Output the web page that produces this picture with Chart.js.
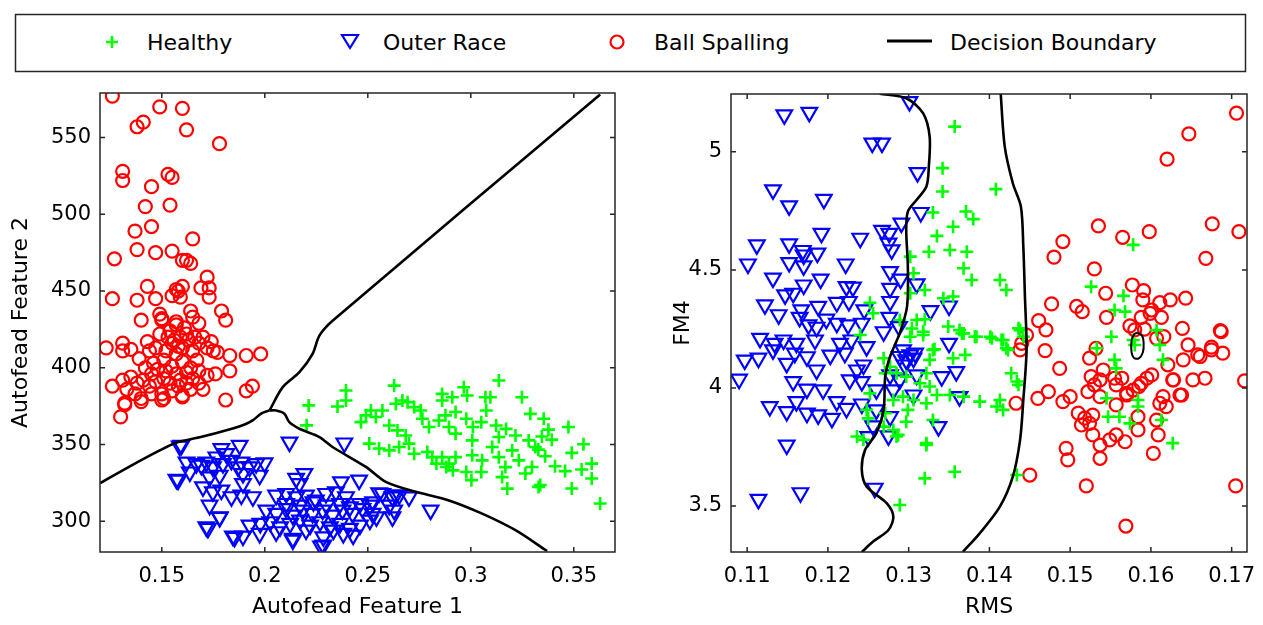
<!DOCTYPE html>
<html>
<head>
<meta charset="utf-8">
<title>Autofead vs RMS/FM4</title>
<script src="https://cdn.jsdelivr.net/npm/chart.js@4.4.0/dist/chart.umd.min.js"></script>
<style>
  body { margin: 0; width: 1263px; height: 625px; background: #fff; position: relative; overflow: hidden; }
  #legend { position: absolute; left: 0; top: 0; }
  #wrapA { position: absolute; left: 0; top: 80px; width: 640px; height: 545px; }
  #wrapB { position: absolute; left: 640px; top: 80px; width: 623px; height: 545px; }
</style>
</head>
<body>
<svg id="legend" width="1263" height="80" xmlns="http://www.w3.org/2000/svg"></svg>
<div id="wrapA"><canvas id="chartA" width="640" height="545"></canvas></div>
<div id="wrapB"><canvas id="chartB" width="623" height="545"></canvas></div>
<script>
var seriesNames = ['Healthy', 'Outer Race', 'Ball Spalling', 'Decision Boundary'];

// left panel: autofead features
var xTicksA = [0.15, 0.2, 0.25, 0.3, 0.35];
var yTicksA = [300, 350, 400, 450, 500, 550];

var healthyA = [
  [0.2213,375.5],[0.2203,362.5],[0.2353,374.8],[0.2394,385.2],[0.2394,378.7],[0.2628,388.4],
  [0.2467,364.6],[0.2491,369.0],[0.2515,372.2],[0.2539,367.9],[0.2571,372.2],[0.2604,362.4],[0.2644,359.2],
  [0.2684,355.9],[0.2725,344.0],[0.2636,376.6],[0.2668,378.7],[0.2693,377.6],[0.2725,374.4],[0.2757,372.2],
  [0.2507,350.6],[0.2555,347.4],[0.2604,346.2],[0.2652,348.4],[0.2700,350.6],
  [0.2789,345.1],[0.2833,337.6],[0.2881,335.4],[0.2913,333.2],[0.2978,332.1],[0.3003,326.8],[0.3051,332.1],
  [0.2765,366.8],[0.2797,361.4],[0.2845,365.7],[0.2877,369.0],[0.2926,371.2],[0.2978,366.8],[0.3010,361.4],
  [0.3051,364.6],[0.3075,372.2],[0.3123,362.4],[0.3171,360.2],[0.3217,355.9],
  [0.2861,383.0],[0.2861,378.7],[0.2910,380.8],[0.2966,387.3],[0.2982,381.9],[0.3071,380.8],[0.3095,380.8],
  [0.3136,391.7],[0.3248,380.8],[0.3289,370.0],[0.3354,366.8],[0.3474,361.4],[0.3547,350.2],[0.3587,337.6],
  [0.3587,327.9],[0.3628,311.6],[0.3490,321.4],[0.3337,323.6],[0.3345,355.2],[0.3377,359.7],[0.3393,353.2],
  [0.3328,346.7],[0.3361,342.4],[0.3409,335.9],[0.3458,332.7],[0.3538,333.7],[0.3490,344.6],
  [0.3136,341.8],[0.3168,335.3],[0.3152,328.8],[0.3177,321.3],[0.3201,346.2],[0.3233,339.7],[0.3265,331.1],
  [0.3297,335.4],[0.3329,322.4],[0.3281,352.7],[0.3313,348.4],[0.3104,348.4],[0.3055,339.7],[0.3007,343.0],
  [0.2926,341.8],[0.2894,337.6],[0.2861,341.8],[0.2813,341.8],[0.3007,352.7],[0.2926,357.1],[0.2894,361.4],
  [0.3136,354.9]
];

var outerA = [
  [0.1595,349.5],[0.2120,351.6],[0.2386,351.0],[0.1789,347.3],[0.1878,349.5],[0.1813,344.1],[0.1765,341.9],
  [0.1620,338.6],[0.1668,337.6],[0.1716,338.6],[0.1636,332.1],[0.1692,336.5],[0.1748,335.4],[0.1797,337.6],
  [0.1838,339.7],[0.1886,338.6],[0.1926,335.4],[0.1958,337.6],[0.1999,338.0],
  [0.1579,326.8],[0.1700,322.4],[0.1732,328.9],[0.1781,330.0],[0.1748,319.2],[0.1789,320.3],[0.1838,316.0],
  [0.1886,317.1],[0.1894,324.6],[0.1942,316.0],[0.1975,330.0],[0.1894,331.1],[0.1870,335.4],
  [0.1732,310.5],[0.1781,302.9],[0.1716,296.4],[0.1845,290.4],[0.1894,290.4],[0.1926,297.5],[0.1975,292.1],
  [0.2055,317.0],[0.2104,318.1],[0.2152,316.0],[0.2200,317.1],[0.2248,313.8],[0.2297,318.1],[0.2345,319.2],
  [0.2394,316.0],[0.2458,326.8],[0.2370,325.7],[0.2152,327.9],[0.2192,331.1],[0.2168,324.6],
  [0.2007,307.3],[0.2056,305.1],[0.2104,308.3],[0.2136,304.0],[0.2184,307.3],[0.2232,305.1],[0.2281,307.3],
  [0.2329,304.0],[0.2377,307.3],[0.2426,305.1],[0.2474,308.3],[0.2523,305.1],[0.2571,318.1],[0.2619,315.9],
  [0.2652,317.1],[0.2700,315.9],[0.2604,310.5],[0.2628,307.3],[0.2620,302.9],[0.2805,307.3],
  [0.1978,298.6],[0.2026,299.7],[0.2074,296.4],[0.2123,298.6],[0.2171,300.8],[0.2220,297.5],[0.2268,299.7],
  [0.2316,296.4],[0.2365,298.6],[0.2413,295.4],[0.2462,297.5],[0.2510,300.8],[0.2542,302.9],
  [0.2055,293.2],[0.2136,288.9],[0.2200,294.3],[0.2284,289.9],[0.2284,284.5],[0.2381,292.1],[0.2429,291.0],
  [0.2333,294.3],
  [0.2104,311.6],[0.2171,310.5],[0.2236,312.7],[0.2300,310.5],[0.2365,311.6],[0.2413,309.4],[0.2462,311.6],
  [0.2510,310.5],[0.2526,312.7],
  [0.2555,318.6],[0.2636,317.1],[0.2273,283.9],[0.1587,349.0],[0.1571,327.4],[0.1724,295.4],[0.1781,302.5],
  [0.1853,289.5],[0.2136,287.8]
];

var ballA = [
  [0.126,577],[0.149,570],[0.160,569],[0.138,557],[0.141,560],[0.162,555],[0.178,546],[0.131,528],[0.131,522],
  [0.153,526],[0.155,524],[0.145,518],[0.154,506],[0.142,505],[0.137,489],[0.145,492],[0.165,484],[0.127,471],
  [0.138,477],[0.147,475],[0.155,476],[0.160,470],[0.162,470],[0.164,468],[0.172,459],[0.169,452],[0.173,452],
  [0.173,446],[0.126,445],[0.143,453],[0.138,444],[0.147,445],[0.155,447],[0.158,450],[0.159,446],[0.160,453],
  [0.157,451],[0.179,437],[0.181,431],[0.140,431],[0.149,435],[0.150,432],[0.157,430],[0.164,437],[0.165,433],
  [0.168,429],
  [0.123,413],[0.131,416],[0.131,411],[0.135,412],[0.143,417],[0.150,431],[0.149,422],[0.154,424],[0.157,428],
  [0.159,420],[0.162,422],[0.144,411],[0.147,413],[0.152,411],[0.155,416],[0.157,409],[0.160,413],[0.165,411],
  [0.168,416],[0.172,413],[0.175,411],[0.174,417],[0.177,410],[0.183,408],[0.191,408],[0.198,409],[0.183,398],
  [0.139,406],[0.146,403],[0.151,405],[0.155,401],[0.160,404],[0.164,400],[0.167,405],[0.168,398],
  [0.126,388],[0.131,392],[0.135,394],[0.138,390],[0.141,392],[0.144,388],[0.147,391],[0.151,393],[0.154,390],
  [0.159,392],[0.162,390],[0.165,393],[0.168,390],[0.172,395],[0.176,396],
  [0.132,377],[0.137,383],[0.140,380],[0.150,383],[0.150,379],[0.160,382],[0.164,386],[0.170,386],[0.181,379],
  [0.191,385],[0.194,388],[0.130,368],[0.132,376],[0.140,378],[0.151,380],[0.160,381],
  [0.153,420],[0.156,418],[0.158,414],[0.161,426],[0.163,418],[0.166,420],[0.170,420],[0.152,398],[0.157,396],
  [0.162,397],[0.145,396],[0.142,400],[0.148,399],[0.155,385],[0.158,388],[0.145,383],[0.133,386]
];

// decision boundaries, left panel
var boundA1 = [[0.1200,324.8],[0.1345,335.8],[0.1490,346.2],[0.1573,351.4],[0.1684,354.7],[0.1844,360.5],
  [0.1902,363.1],[0.1941,365.7],[0.1984,370.3],[0.2023,372.2]];
var boundA2 = [[0.2023,372.2],[0.2055,372.2],[0.2095,370.1],[0.2119,364.6],[0.2168,360.3],[0.2265,354.9],
  [0.2329,348.4],[0.2491,335.4],[0.2587,325.7],[0.2733,319.2],[0.2894,313.6],[0.3055,305.0],[0.3217,294.2],
  [0.3370,280.6]];
var boundA3 = [[0.2023,372.2],[0.2087,387.4],[0.2168,397.1],[0.2232,409.0],[0.2265,420.9],[0.2329,430.6],
  [0.3628,578.0]];

// right panel: RMS vs FM4
var xTicksB = [0.11, 0.12, 0.13, 0.14, 0.15, 0.16, 0.17];
var yTicksB = [3.5, 4, 4.5, 5];

var healthyB = [
  [0.1357,5.107],[0.1342,4.931],[0.1342,4.832],[0.1330,4.743],[0.1371,4.747],[0.1380,4.715],[0.1355,4.683],
  [0.1335,4.644],[0.1325,4.577],[0.1351,4.584],[0.1372,4.577],[0.1302,4.556],[0.1368,4.507],[0.1378,4.457],
  [0.1306,4.486],[0.1302,4.401],[0.1320,4.415],[0.1343,4.380],[0.1355,4.387],[0.1252,4.361],[0.1256,4.316],
  [0.1289,4.288],[0.1304,4.252],[0.1310,4.288],[0.1320,4.291],[0.1302,4.217],[0.1318,4.224],[0.1349,4.260],
  [0.1366,4.231],[0.1382,4.217],[0.1332,4.164],[0.1240,4.224],[0.1413,4.457],[0.1421,4.415],[0.1318,4.238],
  [0.1363,4.245],[0.1401,4.217],[0.1415,4.203],[0.1423,4.161],[0.1438,4.245],[0.1442,4.217],
  [0.1269,4.126],[0.1277,4.090],[0.1330,4.161],[0.1326,4.119],[0.1355,4.126],[0.1370,4.140],[0.1271,4.062],
  [0.1285,4.062],[0.1297,4.048],[0.1322,4.062],[0.1326,4.006],[0.1335,3.970],[0.1314,4.020],[0.1293,3.963],
  [0.1306,3.949],[0.1322,3.935],[0.1351,3.970],[0.1368,3.963],[0.1388,3.942],[0.1409,3.921],[0.1413,3.949],
  [0.1417,3.907],[0.1427,4.062],[0.1434,4.027],[0.1436,4.013],
  [0.1252,3.977],[0.1248,3.907],[0.1271,3.893],[0.1281,3.949],[0.1299,3.907],[0.1297,3.857],[0.1330,3.864],
  [0.1281,3.822],[0.1285,3.794],[0.1244,3.780],[0.1322,3.766],[0.1236,3.794],[0.1250,3.871],[0.1269,3.836],
  [0.1287,3.801],[0.1322,3.758],[0.1320,3.617],[0.1357,3.645],[0.1289,3.504],
  [0.1408,4.842],[0.1526,4.429],[0.1566,4.390],[0.1578,4.606],[0.1555,4.330],[0.1568,4.323],
  [0.1436,4.253],[0.1368,4.231],[0.1384,4.217],[0.1403,4.210],[0.1417,4.203],[0.1421,4.168],[0.1551,4.217],
  [0.1533,4.168],[0.1578,4.203],[0.1607,4.245],[0.1611,4.182],[0.1580,4.182],[0.1555,4.119],[0.1557,4.083],
  [0.1615,4.119],[0.1545,3.956],[0.1584,3.949],[0.1584,3.921],[0.1547,3.878],[0.1561,3.878],[0.1574,3.850],
  [0.1613,3.864],[0.1627,3.766],[0.1434,3.631]
];

var outerB = [
  [0.1301,5.213],[0.1146,5.157],[0.1177,5.167],[0.1255,5.037],[0.1267,5.037],[0.1311,4.912],[0.1132,4.839],
  [0.1152,4.771],[0.1195,4.799],[0.1315,4.743],[0.1291,4.698],[0.1267,4.667],[0.1276,4.655],[0.1192,4.655],
  [0.1240,4.634],[0.1112,4.606],[0.1152,4.610],[0.1169,4.582],[0.1187,4.571],[0.1170,4.563],[0.1275,4.613],
  [0.1279,4.585],[0.1101,4.525],[0.1152,4.531],[0.1170,4.517],[0.1222,4.525],[0.1277,4.493],
  [0.1132,4.465],[0.1191,4.461],[0.1223,4.429],[0.1231,4.427],[0.1277,4.422],[0.1290,4.461],[0.1310,4.441],
  [0.1147,4.394],[0.1157,4.401],[0.1170,4.436],
  [0.1122,4.352],[0.1139,4.310],[0.1167,4.331],[0.1188,4.345],[0.1211,4.362],[0.1226,4.366],[0.1245,4.331],
  [0.1277,4.366],[0.1327,4.327],[0.1350,4.347],
  [0.1165,4.299],[0.1176,4.267],[0.1186,4.257],[0.1198,4.291],[0.1211,4.274],[0.1225,4.267],[0.1242,4.274],
  [0.1276,4.299],[0.1288,4.260],
  [0.1116,4.210],[0.1134,4.189],[0.1145,4.203],[0.1161,4.189],[0.1184,4.203],[0.1215,4.189],[0.1229,4.203],
  [0.1248,4.175],[0.1269,4.238],[0.1350,4.189],
  [0.1090,4.037],[0.1097,4.118],[0.1114,4.126],[0.1132,4.161],[0.1149,4.104],[0.1159,4.147],[0.1174,4.132],
  [0.1186,4.076],[0.1203,4.139],[0.1221,4.147],[0.1236,4.076],[0.1244,4.097],
  [0.1157,4.027],[0.1174,3.995],[0.1194,3.992],[0.1227,4.034],[0.1242,4.027],[0.1260,3.992],[0.1277,4.055],
  [0.1289,4.034],[0.1306,3.970],[0.1281,3.992],
  [0.1128,3.921],[0.1149,3.900],[0.1161,3.942],[0.1174,3.893],[0.1188,3.886],[0.1205,3.871],[0.1211,3.942],
  [0.1223,3.913],[0.1242,3.932],[0.1260,3.907],[0.1277,3.878],[0.1337,3.836],[0.1363,3.963],[0.1341,4.048],
  [0.1359,4.069],[0.1310,4.055],
  [0.1256,3.839],[0.1250,3.794],[0.1275,3.797],[0.1149,3.758],[0.1114,3.528],[0.1166,3.556],[0.1258,3.575],
  [0.1293,4.161],[0.1302,4.140],[0.1297,4.119],[0.1306,4.126],[0.1289,4.133],[0.1295,4.097],[0.1308,4.147]
];

var ballB = [
  [0.1706,5.164],[0.1647,5.076],[0.1620,4.969],[0.1535,4.686],[0.1491,4.620],[0.1480,4.554],[0.1530,4.504],
  [0.1565,4.638],[0.1598,4.662],[0.1676,4.695],[0.1709,4.662],[0.1668,4.549],
  [0.1577,4.436],[0.1591,4.412],[0.1590,4.373],[0.1544,4.401],[0.1611,4.361],[0.1624,4.373],[0.1643,4.380],
  [0.1601,4.330],[0.1588,4.299],[0.1613,4.299],[0.1599,4.316],
  [0.1477,4.356],[0.1508,4.345],[0.1515,4.323],[0.1545,4.299],
  [0.1461,4.285],[0.1470,4.246],[0.1446,4.224],[0.1440,4.189],[0.1469,4.158],
  [0.1574,4.263],[0.1580,4.246],[0.1592,4.249],[0.1616,4.217],[0.1639,4.252],[0.1646,4.182],[0.1686,4.243],
  [0.1675,4.173],[0.1689,4.147],[0.1658,4.140],[0.1487,4.083],[0.1607,4.210],
  [0.1661,4.133],[0.1675,4.161],[0.1640,4.119],[0.1621,4.098],[0.1627,4.034],[0.1638,3.970],
  [0.1524,4.126],[0.1532,4.168],[0.1541,4.076],[0.1526,4.048],[0.1530,4.013],[0.1537,4.034],[0.1555,4.041],
  [0.1564,4.041],[0.1557,4.013],[0.1570,3.970],[0.1578,3.991],[0.1588,4.019],[0.1595,4.041],[0.1601,4.055],
  [0.1585,4.006],[0.1522,3.984],[0.1537,3.963],[0.1557,3.928],[0.1570,3.977],
  [0.1491,3.942],[0.1500,3.963],[0.1460,3.956],[0.1473,3.984],
  [0.1611,3.935],[0.1619,3.921],[0.1615,3.963],[0.1636,3.970],[0.1607,3.864],[0.1609,3.801],
  [0.1510,3.893],[0.1518,3.872],[0.1528,3.885],[0.1514,3.843],[0.1524,3.850],[0.1528,3.801],[0.1537,3.758],
  [0.1549,3.780],[0.1557,3.801],[0.1568,3.772],[0.1584,3.878],[0.1584,3.822],[0.1495,3.744],[0.1497,3.695],
  [0.1537,3.702],[0.1603,3.723],
  [0.1450,3.631],[0.1520,3.585],[0.1569,3.415],[0.1705,3.585],[0.1716,4.030],
  [0.1687,4.238],[0.1667,4.041],[0.1652,4.034],[0.1628,4.034],[0.1433,3.935],[0.1438,4.161]
];

// decision boundaries, right panel
var boundB1 = [[0.1264,5.246],[0.1297,5.227],[0.1318,5.163],[0.1326,5.065],[0.1325,4.938],[0.1322,4.853],
  [0.1310,4.797],[0.1299,4.747],[0.1297,4.669],[0.1299,4.514],[0.1298,4.344],[0.1289,4.232],[0.1277,4.133],
  [0.1271,4.048],[0.1269,3.907],[0.1260,3.808],[0.1246,3.737],[0.1242,3.652],[0.1248,3.582],[0.1273,3.511],
  [0.1281,3.455],[0.1275,3.398],[0.1256,3.349],[0.1242,3.305]];
var boundB2 = [[0.1414,5.246],[0.1419,5.022],[0.1429,4.867],[0.1439,4.768],[0.1442,4.599],[0.1444,4.387],
  [0.1446,4.161],[0.1442,3.949],[0.1438,3.780],[0.1429,3.624],[0.1413,3.497],[0.1388,3.384],[0.1367,3.305]];
var boundB3 = [[0.1583,4.234],[0.1589,4.222],[0.1591,4.190],[0.1590,4.150],[0.1585,4.125],[0.1579,4.127],
  [0.1576,4.152],[0.1576,4.200],[0.1579,4.226],[0.1583,4.234]];

var GREEN = '#00ff00', BLUE = '#0000ff', RED = '#ff0000', FRAME = '#262626';
Chart.defaults.font.family = '"DejaVu Sans", sans-serif';
Chart.defaults.color = '#000';

function toXY(arr) {
  return arr.map(function(p) { return { x: p[0], y: p[1] }; });
}

function pointSet(name, arr, style, color, radius, width, rot) {
  return {
    label: name, data: toXY(arr), showLine: false,
    pointStyle: style, pointRadius: radius, pointHoverRadius: radius, pointRotation: rot || 0,
    pointBorderColor: color, pointBackgroundColor: 'rgba(0,0,0,0)', pointBorderWidth: width,
    borderColor: color, backgroundColor: 'rgba(0,0,0,0)'
  };
}

function lineSet(arr, w) {
  return {
    label: seriesNames[3], data: toXY(arr), showLine: true, pointRadius: 0,
    borderColor: '#000', borderWidth: w || 2.6, tension: 0.3, fill: false
  };
}

// box round the plot with inward ticks on all four sides
var frameTicks = {
  id: 'frameTicks',
  afterDraw: function(chart) {
    var ctx = chart.ctx, a = chart.chartArea;
    var xs = chart.scales.x, ys = chart.scales.y;
    ctx.save();
    ctx.strokeStyle = FRAME;
    ctx.lineWidth = 1.5;
    ctx.strokeRect(a.left, a.top, a.right - a.left, a.bottom - a.top);
    ctx.beginPath();
    xs.ticks.forEach(function(t) {
      var p = xs.getPixelForValue(t.value);
      ctx.moveTo(p, a.bottom); ctx.lineTo(p, a.bottom - 5);
      ctx.moveTo(p, a.top); ctx.lineTo(p, a.top + 5);
    });
    ys.ticks.forEach(function(t) {
      var p = ys.getPixelForValue(t.value);
      ctx.moveTo(a.left, p); ctx.lineTo(a.left + 5, p);
      ctx.moveTo(a.right, p); ctx.lineTo(a.right - 5, p);
    });
    ctx.stroke();
    ctx.restore();
  }
};

function makePanel(id, sets, cfg) {
  return new Chart(document.getElementById(id), {
    type: 'scatter',
    data: { datasets: sets },
    plugins: [frameTicks],
    options: {
      responsive: false, animation: false, devicePixelRatio: 1,
      layout: { padding: { top: cfg.padTop, right: cfg.padRight, left: 0, bottom: 0 } },
      plugins: { legend: { display: false }, tooltip: { enabled: false } },
      scales: {
        x: {
          type: 'linear', min: cfg.xMin, max: cfg.xMax,
          afterBuildTicks: function(s) { s.ticks = cfg.xTicks.map(function(v) { return { value: v }; }); },
          afterFit: function(s) { s.height = 73; s.paddingLeft = 0; s.paddingRight = 0; },
          grid: { display: false, drawTicks: false }, border: { display: false },
          ticks: { autoSkip: false, maxRotation: 0, padding: 12, font: { size: 21 },
                   callback: function(v) { return String(v); } },
          title: { display: true, text: cfg.xTitle, font: { size: 22, lineHeight: 1.2 }, padding: { top: 0, bottom: 5 } }
        },
        y: {
          type: 'linear', min: cfg.yMin, max: cfg.yMax,
          afterBuildTicks: function(s) { s.ticks = cfg.yTicks.map(function(v) { return { value: v }; }); },
          afterFit: function(s) { s.width = cfg.yWidth; s.paddingTop = 0; s.paddingBottom = 0; },
          grid: { display: false, drawTicks: false }, border: { display: false },
          ticks: { autoSkip: false, padding: 9, font: { size: 21 },
                   callback: function(v) { return String(v); } },
          title: { display: true, text: cfg.yTitle, font: { size: 22, lineHeight: 1.2 }, padding: { top: cfg.yTitlePad, bottom: 0 } }
        }
      }
    }
  });
}

makePanel('chartA', [
  lineSet(boundA1), lineSet(boundA2), lineSet(boundA3),
  pointSet(seriesNames[0], healthyA, 'cross', GREEN, 6.5, 2.6),
  pointSet(seriesNames[1], outerA, 'triangle', BLUE, 9, 2.2, 180),
  pointSet(seriesNames[2], ballA, 'circle', RED, 6.5, 2.2)
], {
  xMin: 0.12, xMax: 0.37, yMin: 280, yMax: 579, xTicks: xTicksA, yTicks: yTicksA,
  xTitle: 'Autofead Feature 1', yTitle: 'Autofead Feature 2',
  padTop: 13, padRight: 25, yWidth: 100, yTitlePad: 8
});

makePanel('chartB', [
  lineSet(boundB1), lineSet(boundB2), lineSet(boundB3, 2),
  pointSet(seriesNames[0], healthyB, 'cross', GREEN, 6.5, 2.6),
  pointSet(seriesNames[1], outerB, 'triangle', BLUE, 9, 2.2, 180),
  pointSet(seriesNames[2], ballB, 'circle', RED, 6.5, 2.2)
], {
  xMin: 0.108, xMax: 0.1719, yMin: 3.305, yMax: 5.245, xTicks: xTicksB, yTicks: yTicksB,
  xTitle: 'RMS', yTitle: 'FM4',
  padTop: 14, padRight: 16, yWidth: 91, yTitlePad: 30
});

// shared legend box across the top
(function() {
  var ns = 'http://www.w3.org/2000/svg';
  var svg = document.getElementById('legend');
  function el(tag, attrs) {
    var e = document.createElementNS(ns, tag);
    for (var k in attrs) e.setAttribute(k, attrs[k]);
    svg.appendChild(e);
    return e;
  }
  el('rect', { x: 15.5, y: 14.5, width: 1230, height: 57, fill: 'none', stroke: FRAME, 'stroke-width': 1.5 });
  el('path', { d: 'M106 42H118M112 36V48', stroke: GREEN, 'stroke-width': 2.6, fill: 'none' });
  el('polygon', { points: '342,35 358,35 350,48', stroke: BLUE, 'stroke-width': 2.2, fill: 'none' });
  el('circle', { cx: 617, cy: 42, r: 6.5, stroke: RED, 'stroke-width': 2.2, fill: 'none' });
  el('line', { x1: 887, y1: 41, x2: 932, y2: 41, stroke: '#000', 'stroke-width': 3 });
  var textX = [147, 383, 654, 950];
  seriesNames.forEach(function(name, i) {
    var t = el('text', { x: textX[i], y: 42, 'dominant-baseline': 'central',
      'font-family': 'DejaVu Sans', 'font-size': 22, fill: '#000' });
    t.textContent = name;
  });
})();
</script>
</body>
</html>
